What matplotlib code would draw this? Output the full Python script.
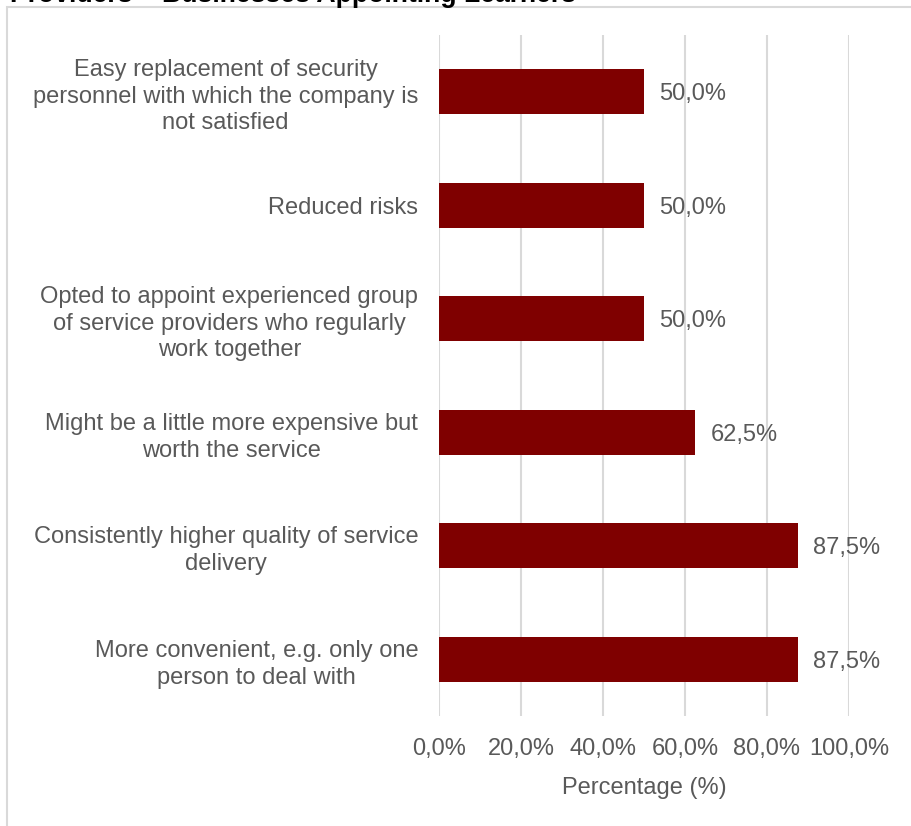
import matplotlib
matplotlib.use("Agg")
import matplotlib.pyplot as plt
from matplotlib.patches import Rectangle

categories = [
    "More convenient, e.g. only one\nperson to deal with",
    "Consistently higher quality of service\ndelivery",
    "Might be a little more expensive but\nworth the service",
    "Opted to appoint experienced group\nof service providers who regularly\nwork together",
    "Reduced risks",
    "Easy replacement of security\npersonnel with which the company is\nnot satisfied",
]
values = [87.5, 87.5, 62.5, 50.0, 50.0, 50.0]
xticks = [0, 20, 40, 60, 80, 100]
xtick_labels = ["0,0%", "20,0%", "40,0%", "60,0%", "80,0%", "100,0%"]
title = "Providers \u2013 Businesses Appointing Learners"
xlabel = "Percentage (%)"

plt.rcParams['font.family'] = ['Liberation Sans', 'DejaVu Sans']
W, H = 911, 826
fig = plt.figure(figsize=(W / 100, H / 100), dpi=100)
text_color = "#595959"
grid_color = "#d9d9d9"

# chart border
fig.patches.append(Rectangle((7 / W, -0.1), 1.2, 1 - 7 / H + 0.1, transform=fig.transFigure,
                             fill=False, edgecolor=grid_color, linewidth=1.5))

ax = fig.add_axes([439 / W, 1 - 716 / H, (849 - 439) / W, (716 - 35) / H])
y = list(range(len(categories)))
ax.barh(y, values, height=0.4, color="#7f0000", zorder=3)
ax.set_ylim(-0.5, len(categories) - 0.5)
ax.set_xlim(0, 100)
ax.set_xticks(xticks)
ax.set_xticklabels(xtick_labels, fontsize=17, color=text_color)
ax.set_yticks(y)
ax.set_yticklabels(categories, fontsize=17, color=text_color, ha='right',
                   multialignment='center', linespacing=1.28)
ax.tick_params(axis='both', length=0)
ax.tick_params(axis='y', pad=15)
ax.tick_params(axis='x', pad=16)
ax.grid(axis='x', color=grid_color, linewidth=1.5, zorder=0)
for s in ax.spines.values():
    s.set_visible(False)
ax.set_xlabel(xlabel, fontsize=17, color=text_color, labelpad=12)

for yi, v in zip(y, values):
    ax.annotate(f"{v:.1f}%".replace(".", ","), (v, yi), xytext=(15, 0),
                textcoords="offset pixels",
                va='center_baseline', ha='left', fontsize=17, color=text_color, zorder=4)

fig.text(10 / W, 1 - 1.5 / H, title, fontsize=19.2, fontweight='bold', color='black',
         ha='left', va='baseline')

fig.savefig("out.png", dpi=100, facecolor='white')
